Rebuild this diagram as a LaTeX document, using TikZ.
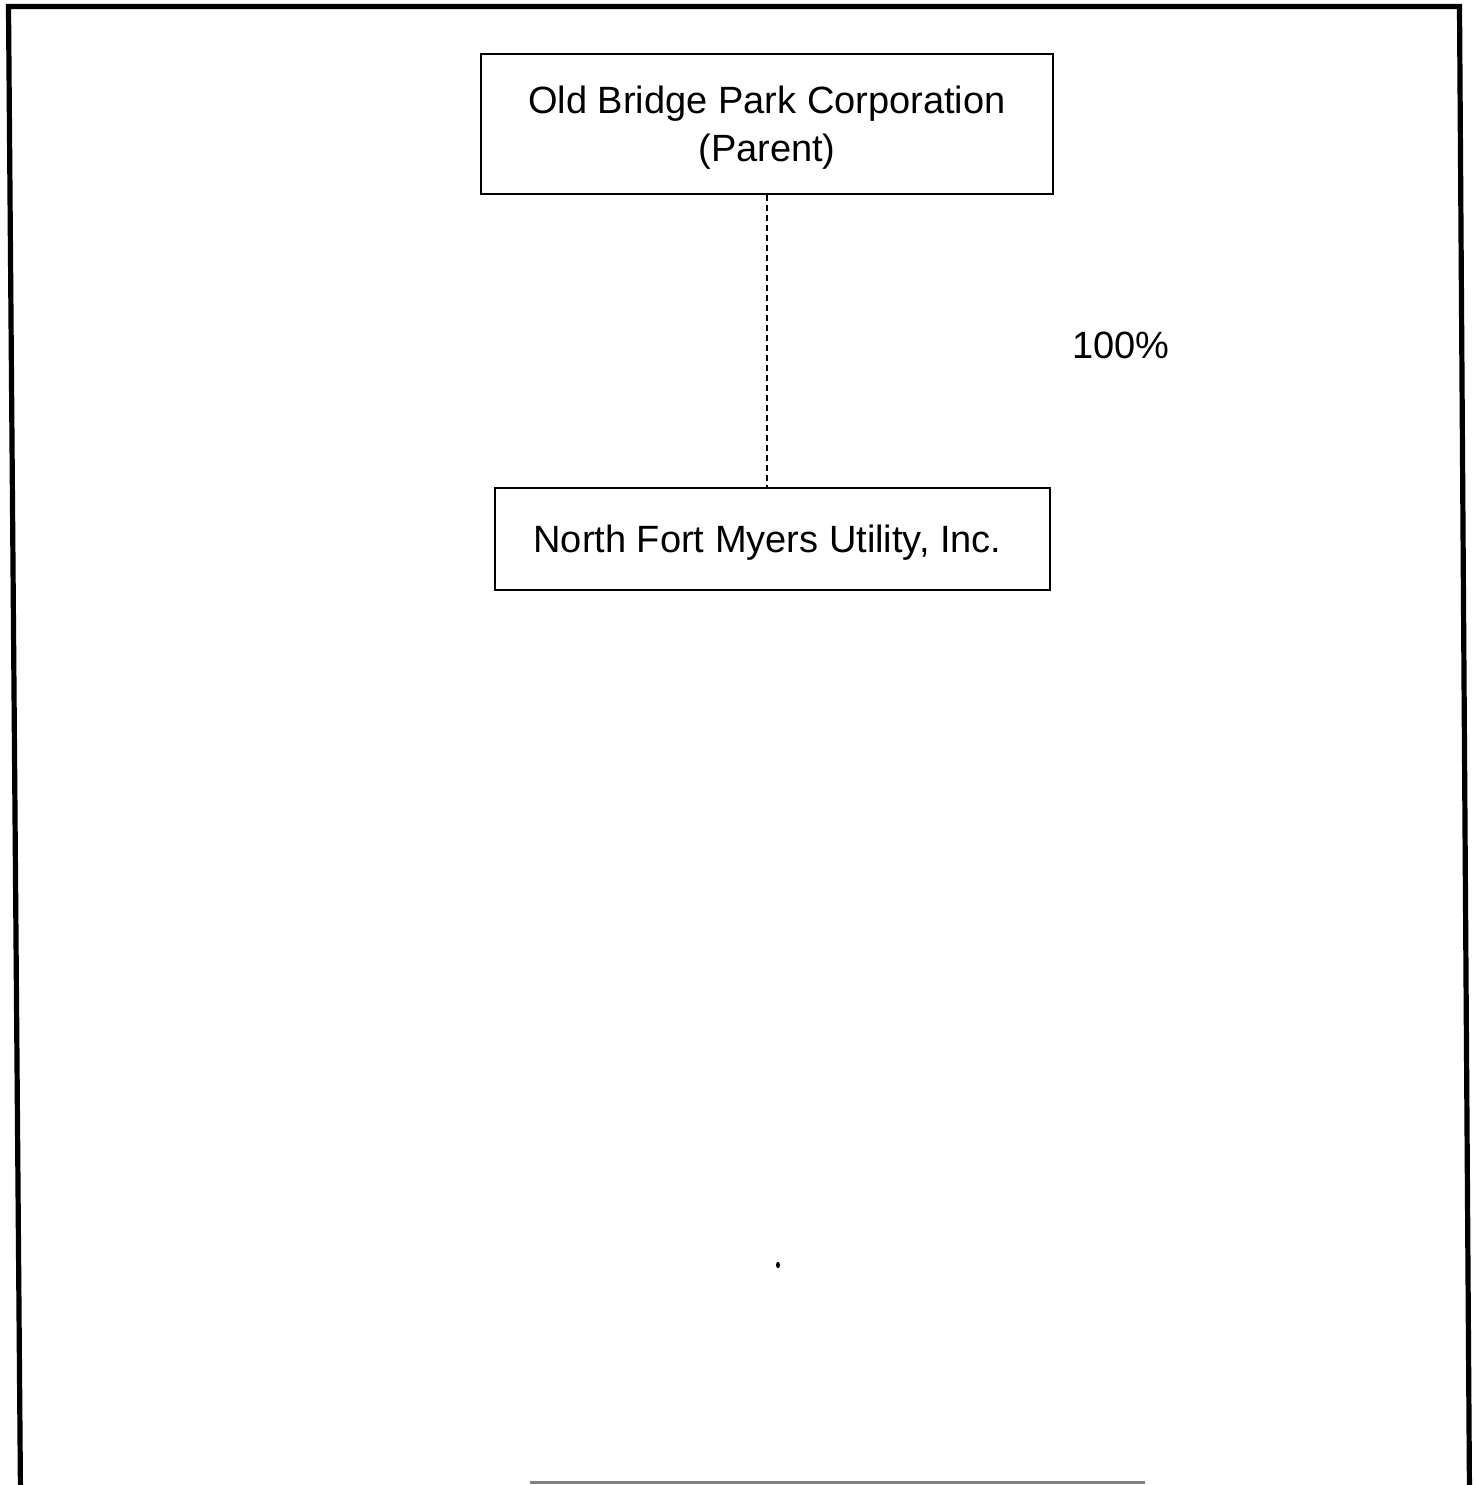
\documentclass[tikz,border=0pt]{standalone}
\usepackage{fontspec}
\setmainfont{Liberation Sans}
\usepackage{tikz}
\usetikzlibrary{positioning}

\begin{document}
\begin{tikzpicture}
	[x=0.5pt,y=-0.5pt,thick,
		box node/.style={rectangle,draw,line width=1pt,align=center,text depth=0pt,font=\fontsize{19}{24}\selectfont},
		label node/.style={font=\fontsize{19}{24}\selectfont},
		link/.style={line width=0.8pt,dash pattern=on 3pt off 2pt}]

	\useasboundingbox (0,0) rectangle (1474,1485);
	\fill[white] (0,0) rectangle (1474,1485);

	% page frame
	\draw[line width=2.6pt] (20.5,1495) -- (8.5,6.5) -- (1459.5,6.5) -- (1469.5,1495);
	\draw[gray,line width=1.5pt] (530,1482) -- (1145,1482);

	\node[box node, minimum width=286pt, minimum height=70pt]  (parent) at (767,124) {Old Bridge Park Corporation\\(Parent)};
	\node[box node, minimum width=277.5pt, minimum height=51pt]  (nfmu) at (772.5,539) {North Fort Myers Utility, Inc.\hspace*{5pt}};
	\node[label node]  (share) at (1121,345) {100\%};
	% \node[box node] (sub) [below=of nfmu] {};

	\draw[link] (parent.south) -- (parent.south |- nfmu.north);

	\fill (778,1265) ellipse (1pt and 1.6pt);

\end{tikzpicture}
\end{document}
